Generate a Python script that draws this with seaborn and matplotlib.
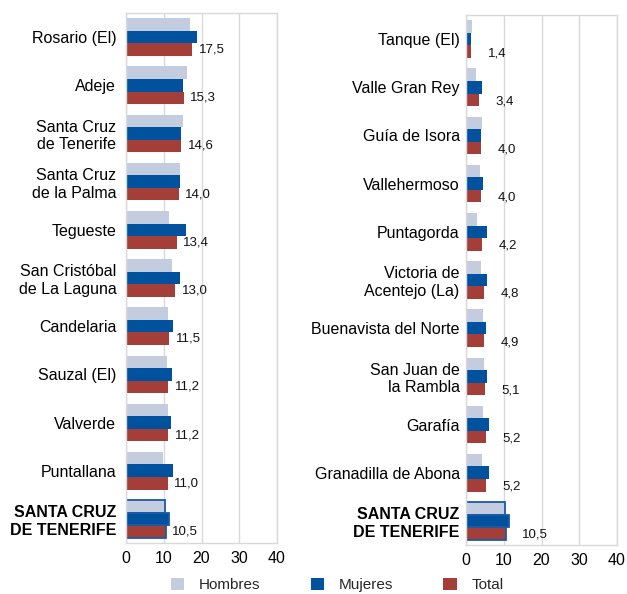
import numpy as np
import pandas as pd
import seaborn as sns
import matplotlib.pyplot as plt
from matplotlib.patches import Patch

# data
series = ["Hombres", "Mujeres", "Total"]
colors = ["#c4cde0", "#00519e", "#a33f38"]

left_names = ["Rosario (El)", "Adeje", "Santa Cruz\nde Tenerife", "Santa Cruz\nde la Palma",
              "Tegueste", "San Cristóbal\nde La Laguna", "Candelaria", "Sauzal (El)",
              "Valverde", "Puntallana", "SANTA CRUZ\nDE TENERIFE"]
left_hombres = [17.0, 16.1, 15.0, 14.3, 11.5, 12.1, 11.0, 10.8, 11.0, 9.9, 10.2]
left_mujeres = [18.7, 15.0, 14.7, 14.3, 15.8, 14.3, 12.5, 12.1, 11.8, 12.5, 11.3]
left_total = [17.5, 15.3, 14.6, 14.0, 13.4, 13.0, 11.5, 11.2, 11.2, 11.0, 10.5]

right_names = ["Tanque (El)", "Valle Gran Rey", "Guía de Isora", "Vallehermoso", "Puntagorda",
               "Victoria de\nAcentejo (La)", "Buenavista del Norte", "San Juan de\nla Rambla",
               "Garafía", "Granadilla de Abona", "SANTA CRUZ\nDE TENERIFE"]
right_hombres = [1.5, 2.6, 4.2, 3.7, 2.8, 3.9, 4.5, 4.7, 4.4, 4.2, 10.2]
right_mujeres = [1.2, 4.2, 3.9, 4.4, 5.5, 5.6, 5.3, 5.5, 6.1, 6.2, 11.3]
right_total = [1.4, 3.4, 4.0, 4.0, 4.2, 4.8, 4.9, 5.1, 5.2, 5.2, 10.5]

xticks = [0, 10, 20, 30, 40]

sns.set_style("white")
plt.rcParams['font.family'] = ['Liberation Sans', 'DejaVu Sans']


def to_long(names, h, m, t):
    df = pd.DataFrame({"name": names, "Hombres": h, "Mujeres": m, "Total": t})
    return df.melt(id_vars="name", var_name="serie", value_name="value")


def draw_panel(ax, names, h, m, t, label_off, label_dy, ypad):
    df = to_long(names, h, m, t)
    sns.barplot(data=df, y="name", x="value", hue="serie", order=names, hue_order=series,
                palette=colors, orient="h", width=0.78, saturation=1, linewidth=0,
                legend=False, ax=ax)

    # blue outline for the province row
    n = len(names)
    for p in ax.patches:
        yc = p.get_y() + p.get_height() / 2
        if abs(yc - (n - 1)) < 0.5:
            p.set_edgecolor("#1a5aa6")
            p.set_linewidth(1.3)

    # value labels next to the Total bar
    for i, v in enumerate(t):
        ax.text(v + label_off, i + 0.26 + label_dy, f"{v:.1f}".replace(".", ","),
                fontsize=9.5, ha="left", va="center", color="#111111")

    ax.set_xlim(0, 40)
    ax.set_xticks(xticks)
    ax.set_xlabel("")
    ax.set_ylabel("")
    ax.grid(axis="x", color="#d9d9d9", linewidth=1)
    ax.set_axisbelow(True)
    for s in ax.spines.values():
        s.set_color("#d9d9d9")
        s.set_linewidth(1)
    ax.tick_params(axis="x", length=0, pad=6, labelsize=11.5, labelcolor="black")
    ax.tick_params(axis="y", length=0, pad=ypad, labelsize=11.5, labelcolor="black")
    ax.get_yticklabels()[-1].set_fontweight("bold")


fig = plt.figure(figsize=(6.27, 5.94), dpi=100)
ax1 = fig.add_axes([126 / 627, 1 - 543 / 594, 151 / 627, 530 / 594])
ax2 = fig.add_axes([466 / 627, 1 - 545 / 594, 151 / 627, 530 / 594])

draw_panel(ax1, left_names, left_hombres, left_mujeres, left_total, 1.7, 0.0, 7)
draw_panel(ax2, right_names, right_hombres, right_mujeres, right_total, 4.4, 0.03, 4.5)

handles = [Patch(facecolor=c, edgecolor="none") for c in colors]
fig.legend(handles, series, loc="center left", bbox_to_anchor=(171 / 627, 1 - 585 / 594),
           ncol=3, frameon=False, fontsize=11, borderpad=0, borderaxespad=0,
           handlelength=0.87, handleheight=0.87, handletextpad=0.95, columnspacing=3.3)

fig.savefig("out.png", dpi=100)
